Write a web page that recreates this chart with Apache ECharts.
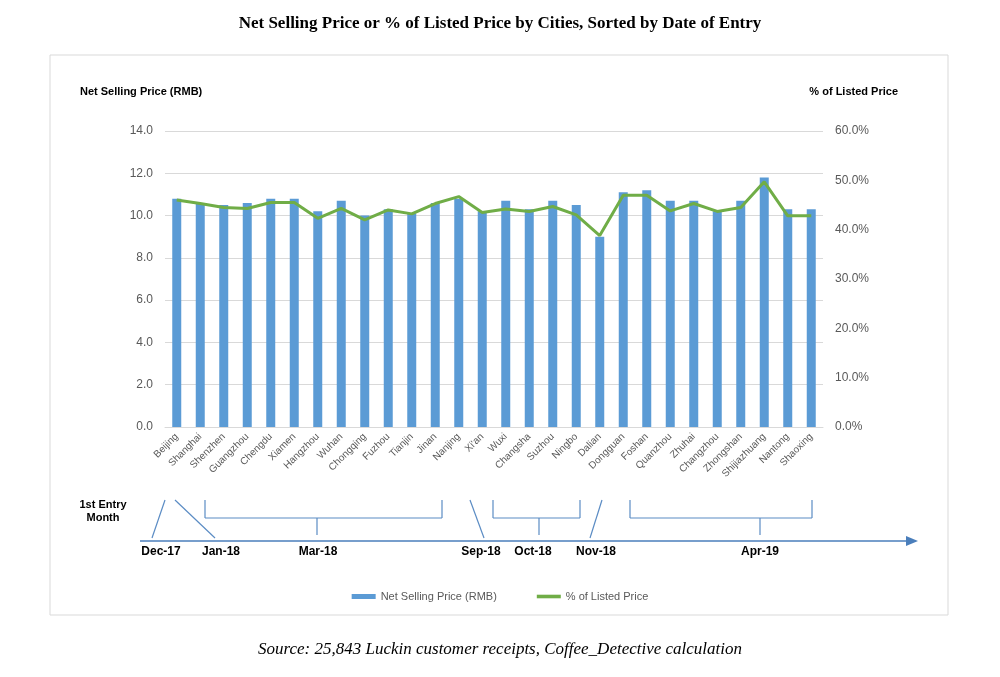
<!DOCTYPE html><html><head><meta charset="utf-8"><script src="https://cdn.jsdelivr.net/npm/echarts@6/dist/echarts.min.js"></script></head><body style="margin:0;background:#fff"><div id="c" style="width:1000px;height:677px"></div><script>
const cities=["Beijing","Shanghai","Shenzhen","Guangzhou","Chengdu","Xiamen","Hangzhou","Wuhan","Chongqing","Fuzhou","Tianjin","Jinan","Nanjing","Xi'an","Wuxi","Changsha","Suzhou","Ningbo","Dalian","Dongguan","Foshan","Quanzhou","Zhuhai","Changzhou","Zhongshan","Shijiazhuang","Nantong","Shaoxing"];
const netPrice=[10.8,10.6,10.5,10.6,10.8,10.8,10.2,10.7,10.0,10.3,10.1,10.6,10.8,10.2,10.7,10.3,10.7,10.5,9.0,11.1,11.2,10.7,10.7,10.2,10.7,11.8,10.3,10.3];
const pctListed=[46.0,45.3,44.5,44.3,45.5,45.5,42.3,44.3,42.0,44.0,43.2,45.3,46.7,43.5,44.2,43.7,44.7,43.0,38.8,47.0,47.0,43.8,45.3,43.7,44.5,49.7,42.8,42.8];
const months=["Dec-17","Jan-18","Mar-18","Sep-18","Oct-18","Nov-18","Apr-19"];
const ln=(x1,y1,x2,y2)=>({type:'line',shape:{x1,y1,x2,y2},style:{stroke:'#5b8cc4',lineWidth:1.2}});
const brace=(a,b,m)=>[ln(a,500,a,518),ln(a,518,b,518),ln(b,500,b,518),ln(m,518,m,535)];
const mx=[161,221,318,481,533,596,760];
const g=[
 {type:'rect',shape:{x:50,y:55,width:898,height:560},style:{fill:'none',stroke:'#d9d9d9',lineWidth:1}},
 ln(165,500,152,538),ln(175,500,215,538),...brace(205,442,317),ln(470,500,484,538),...brace(493,580,539),ln(602,500,590,538),...brace(630,812,760),
 {type:'line',shape:{x1:140,y1:541,x2:908,y2:541},style:{stroke:'#4a7ebb',lineWidth:1.5}},
 {type:'polygon',shape:{points:[[918,541],[906,536],[906,546]]},style:{fill:'#4a7ebb'}},
 {type:'text',x:103,y:511,style:{text:'1st Entry\nMonth',fill:'#000',font:'bold 11px Arial',align:'center',verticalAlign:'middle',lineHeight:13}},
 ...months.map((m,i)=>({type:'text',x:mx[i],y:552,style:{text:m,fill:'#000',font:'bold 12px Arial',align:'center',verticalAlign:'middle'}})),
 {type:'text',x:80,y:92,style:{text:'Net Selling Price (RMB)',fill:'#000',font:'bold 11px Arial',verticalAlign:'middle'}},
 {type:'text',x:898,y:92,style:{text:'% of Listed Price',fill:'#000',font:'bold 11px Arial',align:'right',verticalAlign:'middle'}},
 {type:'text',x:500,y:650,style:{text:'Source: 25,843 Luckin customer receipts, Coffee_Detective calculation',fill:'#000',font:'italic 17px "Liberation Serif"',align:'center',verticalAlign:'middle'}}
];
const ch=echarts.init(document.getElementById('c'));
ch.setOption({animation:false,
title:{text:'Net Selling Price or % of Listed Price by Cities, Sorted by Date of Entry',left:'center',top:10,textStyle:{fontFamily:'Liberation Serif',fontSize:17,fontWeight:'bold',color:'#000'}},
grid:{left:165,right:177,top:131,bottom:250},
legend:{bottom:70,left:'center',itemGap:40,textStyle:{fontFamily:'Arial',fontSize:11,color:'#595959'},data:[{name:'Net Selling Price (RMB)',icon:'rect'},{name:'% of Listed Price',icon:'path://M0,0H20V3H0Z'}],itemWidth:24,itemHeight:5},
xAxis:{type:'category',data:cities,axisTick:{show:false},axisLine:{lineStyle:{color:'#d9d9d9'}},axisLabel:{rotate:45,interval:0,fontSize:10,color:'#595959',fontFamily:'Arial'}},
yAxis:[{type:'value',min:0,max:14,interval:2,axisLabel:{formatter:v=>v.toFixed(1),color:'#595959',fontSize:12,fontFamily:'Arial',margin:12},splitLine:{lineStyle:{color:'#d9d9d9'}}},
{type:'value',min:0,max:60,interval:10,axisLabel:{formatter:v=>v.toFixed(1)+'%',color:'#595959',fontSize:12,fontFamily:'Arial',margin:12},splitLine:{show:false}}],
series:[{name:'Net Selling Price (RMB)',type:'bar',data:netPrice,barWidth:9,itemStyle:{color:'#5b9bd5'}},
{name:'% of Listed Price',type:'line',yAxisIndex:1,data:pctListed,symbol:'none',itemStyle:{color:'#70ad47'},lineStyle:{color:'#70ad47',width:3}}],
graphic:g});
</script></body></html>
